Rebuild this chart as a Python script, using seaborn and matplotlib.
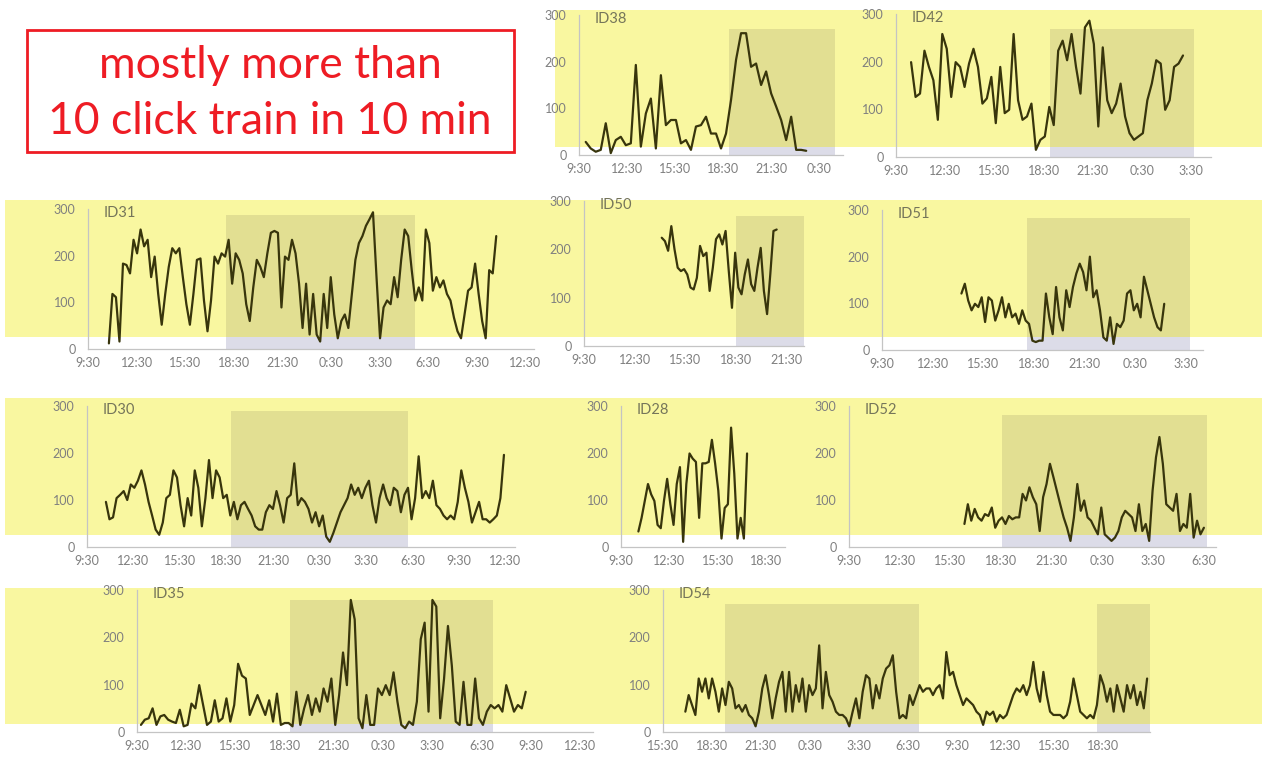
import numpy as np
import pandas as pd
import matplotlib
matplotlib.use("Agg")
import matplotlib.pyplot as plt
from matplotlib.patches import Rectangle
import seaborn as sns

sns.set_style("white")
plt.rcParams["font.family"] = ["Lato", "DejaVu Sans"]

# ---------------- data (click trains per 10 min) ----------------
# time axis: hours since the first tick label; recording span (start, end)
id38_span = (0.42, 14.2)
id38_vals = [28, 14, 7, 11, 68, 4, 32, 39, 21, 25, 193, 18, 89, 121, 14, 171, 64, 75, 75, 25,
             32, 11, 61, 64, 82, 46, 46, 14, 46, 118, 204, 261, 261, 189, 196, 150, 179, 132,
             104, 75, 32, 82, 11, 11, 9]
id38_night = [(9.4, 16.0)]
id38_ticks = ["9:30", "12:30", "15:30", "18:30", "21:30", "0:30"]

id42_span = (0.92, 17.5)
id42_vals = [199, 126, 133, 223, 189, 161, 78, 258, 227, 126, 199, 189, 147, 196, 227, 189, 112,
             123, 168, 71, 189, 92, 99, 258, 119, 78, 85, 112, 15, 36, 43, 105, 67, 223, 244,
             203, 258, 189, 133, 272, 286, 237, 64, 230, 119, 92, 112, 154, 85, 50, 36, 43, 50,
             119, 154, 203, 196, 99, 119, 189, 196, 213]
id42_night = [(9.4, 18.2)]
id42_ticks = ["9:30", "12:30", "15:30", "18:30", "21:30", "0:30", "3:30"]

id31_span = (1.29, 25.2)
id31_vals = [12, 118, 111, 16, 183, 180, 162, 234, 205, 256, 220, 234, 154, 198, 118, 52, 118,
             176, 216, 205, 216, 154, 96, 52, 118, 191, 194, 104, 38, 104, 198, 183, 205, 198,
             234, 140, 205, 191, 162, 96, 60, 132, 191, 176, 154, 205, 249, 253, 249, 89, 198,
             191, 234, 205, 140, 45, 140, 31, 118, 31, 16, 118, 45, 154, 74, 23, 60, 74, 45,
             118, 191, 227, 242, 264, 278, 293, 154, 23, 89, 104, 96, 154, 111, 191, 256, 242,
             169, 104, 132, 104, 256, 227, 125, 154, 132, 147, 118, 104, 67, 38, 23, 74, 125,
             132, 183, 118, 60, 23, 169, 162, 242]
id31_night = [(8.5, 20.2)]
day_ticks = ["9:30", "12:30", "15:30", "18:30", "21:30", "0:30", "3:30", "6:30", "9:30", "12:30"]

id50_span = (4.6, 11.4)
id50_vals = [224, 217, 197, 248, 200, 162, 155, 159, 148, 121, 117, 141, 207, 186, 193, 114, 162,
             221, 231, 210, 238, 155, 79, 193, 121, 107, 148, 179, 128, 114, 162, 203, 114, 66,
             148, 238, 241]
id50_night = [(9.0, 13.0)]
id50_ticks = ["9:30", "12:30", "15:30", "18:30", "21:30"]

id51_span = (4.7, 16.7)
id51_vals = [121, 142, 106, 85, 99, 92, 113, 60, 113, 106, 63, 85, 113, 70, 99, 70, 78, 56, 85,
             63, 56, 20, 17, 20, 20, 121, 70, 34, 135, 70, 42, 128, 92, 135, 164, 185, 167, 128,
             200, 113, 128, 85, 27, 20, 70, 13, 56, 49, 63, 121, 128, 85, 99, 70, 157, 128, 99,
             70, 49, 42, 99]
id51_night = [(8.6, 18.2)]
id51_ticks = ["9:30", "12:30", "15:30", "18:30", "21:30", "0:30", "3:30"]

id30_span = (1.22, 26.9)
id30_vals = [96, 59, 63, 104, 111, 119, 100, 133, 126, 141, 163, 133, 96, 67, 37, 26, 52, 104,
             111, 163, 148, 89, 44, 104, 67, 163, 126, 44, 104, 185, 104, 163, 148, 104, 111, 67,
             96, 59, 89, 96, 81, 67, 44, 37, 37, 74, 89, 81, 119, 89, 52, 104, 111, 178, 89, 104,
             96, 81, 52, 74, 44, 67, 22, 11, 30, 52, 74, 89, 104, 133, 111, 126, 104, 126, 141,
             89, 52, 104, 133, 104, 89, 126, 119, 74, 111, 126, 59, 104, 193, 104, 119, 104, 141,
             89, 81, 67, 59, 67, 59, 96, 163, 126, 96, 52, 74, 96, 59, 59, 52, 59, 67, 104, 196]
id30_night = [(9.3, 20.7)]

id28_span = (1.08, 7.83)
id28_vals = [33, 62, 98, 134, 112, 98, 47, 40, 98, 145, 91, 47, 134, 170, 11, 134, 199, 188, 181,
             62, 178, 178, 181, 228, 178, 120, 18, 83, 91, 254, 156, 18, 62, 18, 199]
id28_night = []
id28_ticks = ["9:30", "12:30", "15:30", "18:30"]

id52_span = (6.83, 21.0)
id52_vals = [49, 91, 56, 81, 63, 56, 70, 66, 84, 41, 56, 63, 49, 66, 59, 63, 63, 113, 99, 127,
             106, 91, 34, 106, 134, 177, 149, 120, 91, 63, 41, 13, 63, 134, 77, 99, 63, 56, 41,
             27, 84, 27, 20, 13, 20, 34, 63, 77, 70, 63, 34, 91, 34, 49, 13, 120, 191, 234, 177,
             91, 84, 77, 113, 34, 49, 41, 113, 20, 56, 27, 41]
id52_night = [(9.07, 21.2)]
id52_ticks = ["9:30", "12:30", "15:30", "18:30", "21:30", "0:30", "3:30", "6:30"]

id35_span = (0.24, 23.7)
id35_vals = [15, 26, 29, 50, 15, 33, 36, 26, 22, 19, 47, 12, 15, 60, 50, 99, 57, 15, 22, 67, 22,
             29, 71, 22, 57, 144, 119, 113, 36, 57, 78, 57, 36, 67, 22, 81, 15, 19, 19, 12, 85,
             15, 50, 78, 36, 71, 43, 92, 64, 113, 15, 78, 168, 99, 279, 238, 29, 8, 78, 15, 15,
             92, 78, 99, 78, 126, 64, 15, 8, 22, 15, 64, 196, 231, 43, 279, 265, 29, 113, 224,
             140, 22, 15, 106, 15, 15, 113, 29, 15, 43, 57, 50, 57, 43, 99, 71, 43, 57, 50, 85]
id35_night = [(9.3, 21.7)]

id54_span = (1.37, 29.7)
id54_vals = [43, 78, 57, 36, 113, 85, 113, 71, 113, 85, 43, 92, 57, 106, 92, 50, 57, 43, 57, 36,
             29, 12, 43, 92, 120, 78, 29, 71, 106, 127, 43, 127, 43, 99, 64, 113, 43, 99, 78, 92,
             183, 50, 127, 78, 64, 43, 36, 36, 29, 12, 43, 71, 29, 85, 120, 113, 50, 99, 71, 113,
             134, 141, 162, 85, 29, 36, 29, 78, 57, 78, 99, 85, 92, 92, 78, 92, 99, 71, 169, 120,
             127, 99, 78, 57, 71, 64, 57, 43, 36, 15, 43, 36, 43, 22, 36, 29, 36, 57, 78, 92, 85,
             99, 78, 99, 148, 92, 64, 127, 78, 43, 36, 36, 36, 29, 36, 64, 113, 78, 43, 36, 29,
             36, 29, 57, 120, 99, 64, 92, 43, 99, 71, 43, 99, 71, 99, 57, 85, 50, 113]
id54_night = [(3.8, 15.7), (26.6, 29.9)]
id54_ticks = ["15:30", "18:30", "21:30", "0:30", "3:30", "6:30", "9:30", "12:30", "15:30", "18:30"]

y_ticks = [0, 100, 200, 300]

# ---------------- layout (pixels) ----------------
W, H = 1262, 762
# name, values, span, night, ticks, axis-left px, y(300) px, y(0) px, px per hour, xmax h,
# night-shade top, bottom edge of the highlight band (px)
panels = [
    ("ID38", id38_vals, id38_span, id38_night, id38_ticks, 579, 15, 155, 16.0, 16.5, 271, 147),
    ("ID42", id42_vals, id42_span, id42_night, id42_ticks, 896, 14, 157, 16.4, 19.2, 268, 147),
    ("ID31", id31_vals, id31_span, id31_night, day_ticks, 88, 209, 349, 16.2, 27.5, 288, 337),
    ("ID50", id50_vals, id50_span, id50_night, id50_ticks, 584, 201, 346, 16.9, 13.0, 269, 337),
    ("ID51", id51_vals, id51_span, id51_night, id51_ticks, 882, 210, 350, 16.9, 19.0, 283, 337),
    ("ID30", id30_vals, id30_span, id30_night, day_ticks, 87, 406, 547, 15.5, 27.6, 290, 535),
    ("ID28", id28_vals, id28_span, id28_night, id28_ticks, 621, 406, 547, 16.1, 10.2, 280, 535),
    ("ID52", id52_vals, id52_span, id52_night, id52_ticks, 849, 406, 547, 16.9, 21.7, 281, 535),
    ("ID35", id35_vals, id35_span, id35_night, day_ticks, 137, 590, 732, 16.4, 27.8, 279, 724),
    ("ID54", id54_vals, id54_span, id54_night, id54_ticks, 663, 590, 732, 16.3, 29.9, 270, 724),
]

bands = [(555, 1262, 10, 147), (5, 1262, 200, 337), (5, 1262, 398, 535), (5, 1262, 588, 724)]

YELLOW = "#f9f7a0"
SHADE_IN = "#e2df92"
SHADE_OUT = "#dcdce8"
LINE = "#38350c"
AXIS = "#c4c4c4"
TXT = "#7f7f7f"
RED = "#ee1c24"

fig = plt.figure(figsize=(W / 100, H / 100), dpi=100)
fig.patch.set_facecolor("white")

for x0, x1, y0, y1 in bands:
    fig.patches.append(Rectangle((x0 / W, 1 - y1 / H), (x1 - x0) / W, (y1 - y0) / H,
                                 transform=fig.transFigure, facecolor=YELLOW,
                                 edgecolor="none", zorder=-5))

for name, vals, span, night, ticks, left, ytop, ybot, pph, xmax, ntop, bband in panels:
    right = left + xmax * pph
    ax = fig.add_axes([left / W, 1 - ybot / H, (right - left) / W, (ybot - ytop) / H])
    ax.set_facecolor("none")
    t = np.linspace(span[0], span[1], len(vals))
    df = pd.DataFrame({"t": t, "v": vals})
    split = (ybot - bband) / (ybot - ytop)
    for s, e in night:
        ax.axvspan(s, e, ymin=0, ymax=split, facecolor=SHADE_OUT, lw=0, zorder=1)
        ax.axvspan(s, e, ymin=split, ymax=ntop / 300, facecolor=SHADE_IN, lw=0, zorder=1)
    sns.lineplot(data=df, x="t", y="v", ax=ax, color=LINE, linewidth=1.6, zorder=3)
    ax.set_xlim(0, xmax)
    ax.set_ylim(0, 300)
    ax.set_xticks([3 * i for i in range(len(ticks))])
    ax.set_xticklabels(ticks)
    ax.set_yticks(y_ticks)
    ax.set_yticklabels([str(v) for v in y_ticks])
    ax.set_xlabel("")
    ax.set_ylabel("")
    for side in ("top", "right"):
        ax.spines[side].set_visible(False)
    for side in ("left", "bottom"):
        ax.spines[side].set_color(AXIS)
        ax.spines[side].set_linewidth(0.9)
    ax.tick_params(axis="both", colors=AXIS, labelcolor=TXT, labelsize=9,
                   length=3, width=0.8, direction="out", pad=3)
    ax.tick_params(axis="y", pad=6)
    ax.text(16 / pph, 291, name, ha="left", va="center", fontsize=10.5, color="#75755a")

# red note box
fig.patches.append(Rectangle((27 / W, 1 - 152 / H), (514 - 27) / W, (152 - 30) / H,
                             transform=fig.transFigure, facecolor="white",
                             edgecolor=RED, linewidth=2, zorder=2))
fig.text(270 / W, 1 - 66 / H, "mostly more than", ha="center", va="center",
         fontsize=32, color=RED, zorder=3)
fig.text(270 / W, 1 - 121 / H, "10 click train in 10 min", ha="center", va="center",
         fontsize=32, color=RED, zorder=3)

fig.savefig("out.png", dpi=100)
